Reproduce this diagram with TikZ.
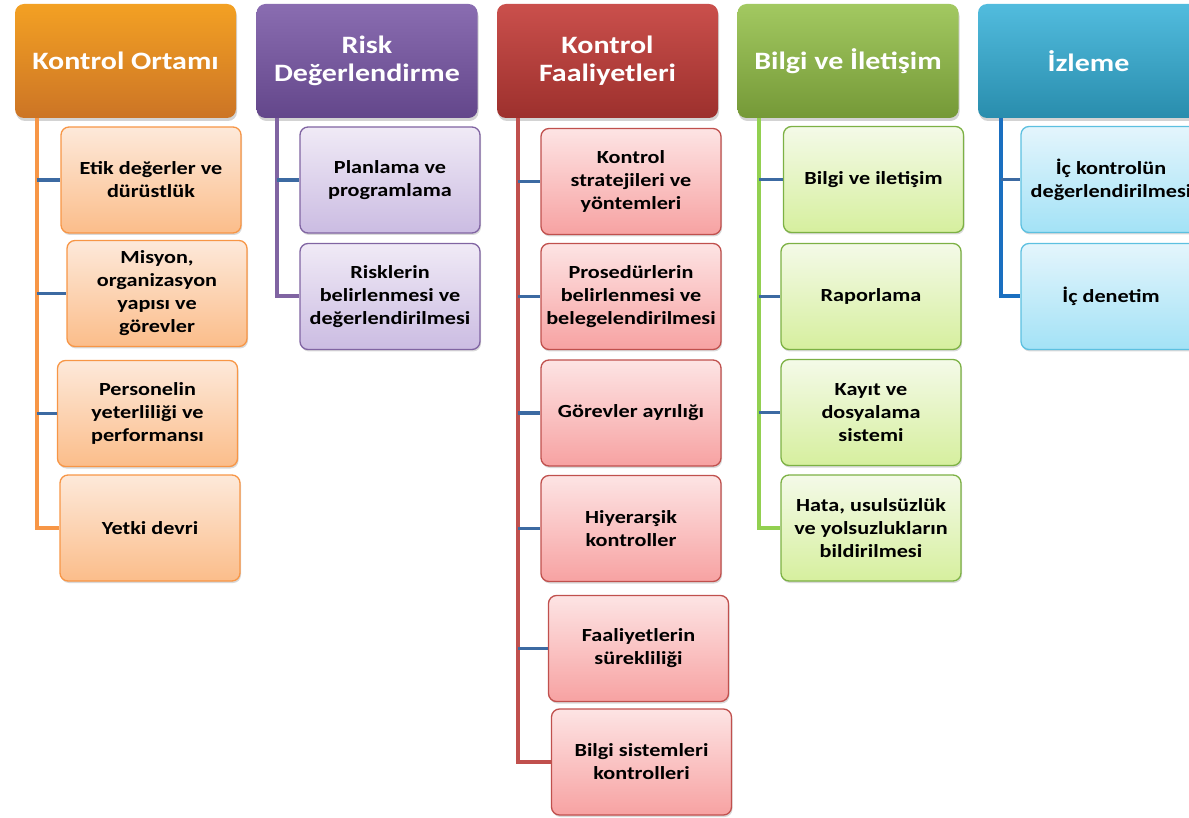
\documentclass[tikz,border=0pt]{standalone}
\usepackage{fontspec}
\setmainfont{Carlito}[FakeStretch=1.2]
\usetikzlibrary{positioning,shadows}
\definecolor{orHead}{HTML}{F0892C}
\definecolor{puHead}{HTML}{7553A3}
\definecolor{reHead}{HTML}{C43C38}
\definecolor{grHead}{HTML}{92BF45}
\definecolor{blHead}{HTML}{33B0D8}
\definecolor{orLine}{HTML}{F79646}
\definecolor{puLine}{HTML}{8064A2}
\definecolor{reLine}{HTML}{C0504D}
\definecolor{grLine}{HTML}{92D050}
\definecolor{blLine}{HTML}{1A6FC0}
\definecolor{tickcol}{HTML}{3C6AA2}
\definecolor{orTop}{HTML}{FDE9DA}
\definecolor{orBot}{HTML}{FBBD8A}
\definecolor{puTop}{HTML}{F0EAF6}
\definecolor{puBot}{HTML}{CBBCE2}
\definecolor{reTop}{HTML}{FDE4E4}
\definecolor{reBot}{HTML}{F7A2A2}
\definecolor{grTop}{HTML}{F4FAE8}
\definecolor{grBot}{HTML}{D6EF9E}
\definecolor{blTop}{HTML}{E4F5FC}
\definecolor{blBot}{HTML}{A3E2F6}
\tikzset{head node/.style={rectangle,rounded corners=9pt,minimum width=221pt,minimum height=114pt,
    align=center,text=white,font=\fontsize{25}{28}\selectfont\bfseries,
    drop shadow={opacity=0.35,shadow xshift=1pt,shadow yshift=-3pt}},
  sub node/.style={rectangle,rounded corners=8pt,minimum width=180pt,minimum height=106pt,
    align=center,line width=1.3pt,font=\fontsize{18.5}{23}\selectfont\bfseries,
    drop shadow={opacity=0.3,shadow xshift=1pt,shadow yshift=-2pt}},
  or sub/.style={sub node,draw=orLine,top color=orTop,bottom color=orBot},
  pu sub/.style={sub node,draw=puLine,top color=puTop,bottom color=puBot},
  re sub/.style={sub node,draw=reLine,top color=reTop,bottom color=reBot},
  gr sub/.style={sub node,draw=grLine!85!black,top color=grTop,bottom color=grBot},
  bl sub/.style={sub node,draw=blHead!80!white,top color=blTop,bottom color=blBot},
  tick/.style={draw=tickcol,line width=3.3pt},
  trunk/.style={line width=4pt},
}
\begin{document}
\begin{tikzpicture}[x=1pt,y=-1pt]
	\clip (0,0) rectangle (1189,818);
	% headers
	\node[head node,top color=orHead!80!yellow,bottom color=orHead!85!black] (h1) at (125.5,61) {Kontrol Ortamı};
	\node[head node,top color=puHead!85!white,bottom color=puHead!85!black] (h2) at (367,61) {Risk\\Değerlendirme};
	\node[head node,top color=reHead!90!white,bottom color=reHead!80!black] (h3) at (607.5,61) {Kontrol\\Faaliyetleri};
	\node[head node,top color=grHead!85!white,bottom color=grHead!80!black] (h4) at (848,61) {Bilgi ve İletişim};
	\node[head node,top color=blHead!85!white,bottom color=blHead!80!black] (h5) at (1088.5,61) {İzleme};
	
	% Kontrol Ortamı
	\node[or sub] (c11) at (151,180) {Etik değerler ve\\dürüstlük};
	\node[or sub] (c12) at (157,293.5) {Misyon,\\organizasyon\\yapısı ve\\görevler};
	\node[or sub] (c13) at (147.5,413.5) {Personelin\\yeterliliği ve\\performansı};
	\node[or sub] (c14) at (150,528) {Yetki devri};
	% Risk Değerlendirme
	\node[pu sub] (c21) at (390,180) {Planlama ve\\programlama};
	\node[pu sub] (c22) at (390,296.5) {Risklerin\\belirlenmesi ve\\değerlendirilmesi};
	% Kontrol Faaliyetleri
	\node[re sub] (c31) at (631,181.5) {Kontrol\\stratejileri ve\\yöntemleri};
	\node[re sub] (c32) at (631,296.5) {Prosedürlerin\\belirlenmesi ve\\belegelendirilmesi};
	\node[re sub] (c33) at (631,413) {Görevler ayrılığı};
	\node[re sub] (c34) at (631,528.5) {Hiyerarşik\\kontroller};
	\node[re sub] (c35) at (638.5,648.5) {Faaliyetlerin\\sürekliliği};
	\node[re sub] (c36) at (641.5,762) {Bilgi sistemleri\\kontrolleri};
	% Bilgi ve İletişim
	\node[gr sub] (c41) at (873.5,179.5) {Bilgi ve iletişim};
	\node[gr sub] (c42) at (871,296.5) {Raporlama};
	\node[gr sub] (c43) at (871,412.5) {Kayıt ve\\dosyalama\\sistemi};
	\node[gr sub] (c44) at (871,528) {Hata, usulsüzlük\\ve yolsuzlukların\\bildirilmesi};
	% İzleme
	\node[bl sub] (c51) at (1111,179.5) {İç kontrolün\\değerlendirilmesi};
	\node[bl sub] (c52) at (1111,296.5) {İç denetim};
	
	\coordinate (t1) at ([xshift=22pt]h1.south west);
	\coordinate (t2) at ([xshift=21pt]h2.south west);
	\coordinate (t3) at ([xshift=21pt]h3.south west);
	\coordinate (t4) at ([xshift=22pt]h4.south west);
	\coordinate (t5) at ([xshift=23pt]h5.south west);
	
	\path[trunk]
	(t1) edge[orLine] (t1 |- c14.west)
	(t2) edge[puLine] (t2 |- c22.west)
	(t3) edge[reLine] (t3 |- c36.west)
	(t4) edge[grLine] (t4 |- c44.west)
	(t5) edge[blLine] (t5 |- c52.west);
	
	\draw[trunk,orLine] ([xshift=-2pt]t1 |- c14.west) -- (c14.west);
	\draw[trunk,puLine] ([xshift=-2pt]t2 |- c22.west) -- (c22.west);
	\draw[trunk,reLine] ([xshift=-2pt]t3 |- c36.west) -- (c36.west);
	\draw[trunk,grLine] ([xshift=-2pt]t4 |- c44.west) -- (c44.west);
	\draw[trunk,blLine] ([xshift=-2pt]t5 |- c52.west) -- (c52.west);
	
	\path[tick]
	(t1 |- c11.west) edge (c11.west)
	(t1 |- c12.west) edge (c12.west)
	(t1 |- c13.west) edge (c13.west)
	(t2 |- c21.west) edge (c21.west)
	(t3 |- c31.west) edge (c31.west)
	(t3 |- c32.west) edge (c32.west)
	(t3 |- c33.west) edge (c33.west)
	(t3 |- c34.west) edge (c34.west)
	(t3 |- c35.west) edge (c35.west)
	(t4 |- c41.west) edge (c41.west)
	(t4 |- c42.west) edge (c42.west)
	(t4 |- c43.west) edge (c43.west)
	(t5 |- c51.west) edge (c51.west);
\end{tikzpicture}
\end{document}
